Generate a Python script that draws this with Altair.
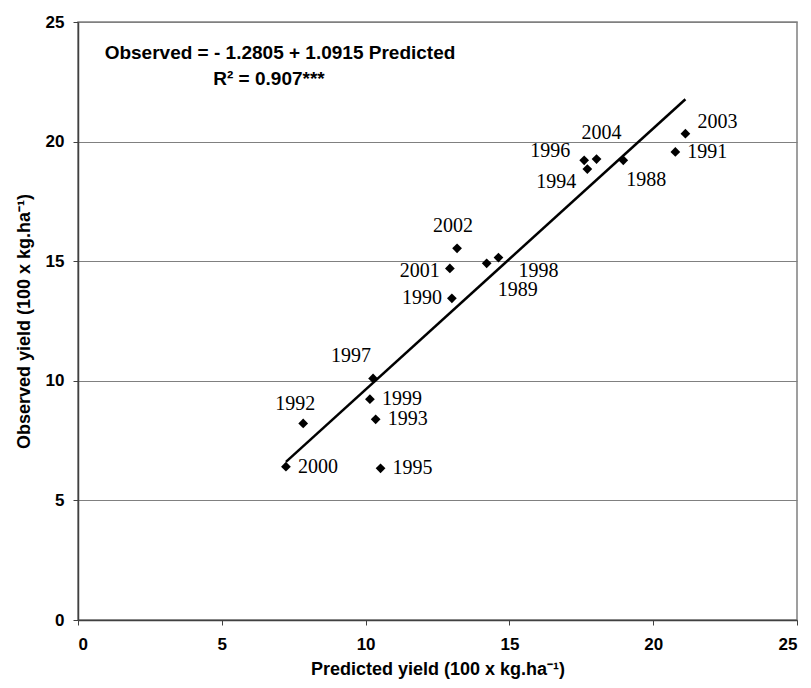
import altair as alt
import pandas as pd

# Data
years = [1988, 1989, 1990, 1991, 1992, 1993, 1994, 1995, 1996, 1997,
         1998, 1999, 2000, 2001, 2002, 2003, 2004]
predicted = [18.96, 14.21, 13.00, 20.77, 7.83, 10.35, 17.71, 10.52, 17.60, 10.26,
             14.62, 10.15, 7.23, 12.93, 13.18, 21.12, 18.03]
observed = [19.22, 14.91, 13.45, 19.57, 8.22, 8.39, 18.85, 6.34, 19.22, 10.10,
            15.15, 9.23, 6.41, 14.70, 15.54, 20.33, 19.27]

intercept = -1.2805
slope = 1.0915
equation_text = "Observed = - 1.2805 + 1.0915 Predicted"
r2_text = "R² = 0.907***"
x_ticks = [0, 5, 10, 15, 20, 25]
y_ticks = [0, 5, 10, 15, 20, 25]

# label placement (layout): (align, dx, dy) per year
label_place = {
    1988: ("left", 3, 20), 1989: ("left", 11, 27), 1990: ("right", -10, 0),
    1991: ("left", 12, 0), 1992: ("center", -8, -19), 1993: ("left", 12, 0),
    1994: ("right", -11, 13), 1995: ("left", 12, 0), 1996: ("right", -14, -9),
    1997: ("center", -22, -22), 1998: ("left", 20, 13), 1999: ("left", 12, 0),
    2000: ("left", 12, 0), 2001: ("right", -10, 3), 2002: ("center", -4, -22),
    2003: ("left", 12, -12), 2004: ("center", 5, -26),
}

df = pd.DataFrame({"year": years, "pred": predicted, "obs": observed})
df["label"] = df["year"].astype(str)

xmin, xmax = min(predicted), max(predicted)
line_df = pd.DataFrame({"pred": [xmin, xmax],
                        "obs": [intercept + slope * xmin, intercept + slope * xmax]})

xs = alt.Scale(domain=[0, 25], nice=False, zero=False)
ys = alt.Scale(domain=[0, 25], nice=False, zero=False)

base_x = alt.X("pred:Q", scale=xs,
               axis=alt.Axis(values=x_ticks, grid=False,
                             title="Predicted yield (100 x kg.ha⁻¹)",
                             titlePadding=8))
base_y = alt.Y("obs:Q", scale=ys,
               axis=alt.Axis(values=y_ticks, grid=True,
                             title="Observed yield (100 x kg.ha⁻¹)",
                             titlePadding=12))

points = alt.Chart(df).mark_point(shape="diamond", filled=True, color="black",
                                  size=95, opacity=1).encode(x=base_x, y=base_y)

line = alt.Chart(line_df).mark_line(color="black", strokeWidth=2.5).encode(
    x=alt.X("pred:Q", scale=xs), y=alt.Y("obs:Q", scale=ys))

label_layers = []
for yr in years:
    align, dx, dy = label_place[yr]
    label_layers.append(
        alt.Chart(df[df["year"] == yr]).mark_text(
            align=align, baseline="middle", dx=dx, dy=dy,
            font="Liberation Serif", fontSize=20, color="black"
        ).encode(x=alt.X("pred:Q", scale=xs), y=alt.Y("obs:Q", scale=ys),
                 text="label:N")
    )

eq = alt.Chart(pd.DataFrame({"t": [equation_text]})).mark_text(
    font="Liberation Sans", fontWeight="bold", fontSize=19, align="center",
    baseline="middle", color="black"
).encode(text="t:N", x=alt.value(202), y=alt.value(31))
r2 = alt.Chart(pd.DataFrame({"t": [r2_text]})).mark_text(
    font="Liberation Sans", fontWeight="bold", fontSize=19, align="center",
    baseline="middle", color="black"
).encode(text="t:N", x=alt.value(191), y=alt.value(57))

chart = alt.layer(points, line, *label_layers, eq, r2).properties(
    width=719, height=598,
    autosize=alt.AutoSizeParams(type="none"),
    padding={"left": 78, "top": 22, "right": 14, "bottom": 68},
).configure_view(stroke="#808080", strokeWidth=1.5).configure_axis(
    labelFont="Liberation Sans", labelFontWeight="bold", labelFontSize=17,
    labelColor="black", titleFont="Liberation Sans", titleFontWeight="bold",
    titleFontSize=18, titleColor="black", domainColor="#404040", domainWidth=1.5,
    tickColor="#404040", tickSize=5, labelPadding=9,
    gridColor="#808080", gridWidth=1.2,
).configure_axisX(labelPadding=11)

chart.save("out.html", embed_options={"renderer": "svg", "actions": False})
